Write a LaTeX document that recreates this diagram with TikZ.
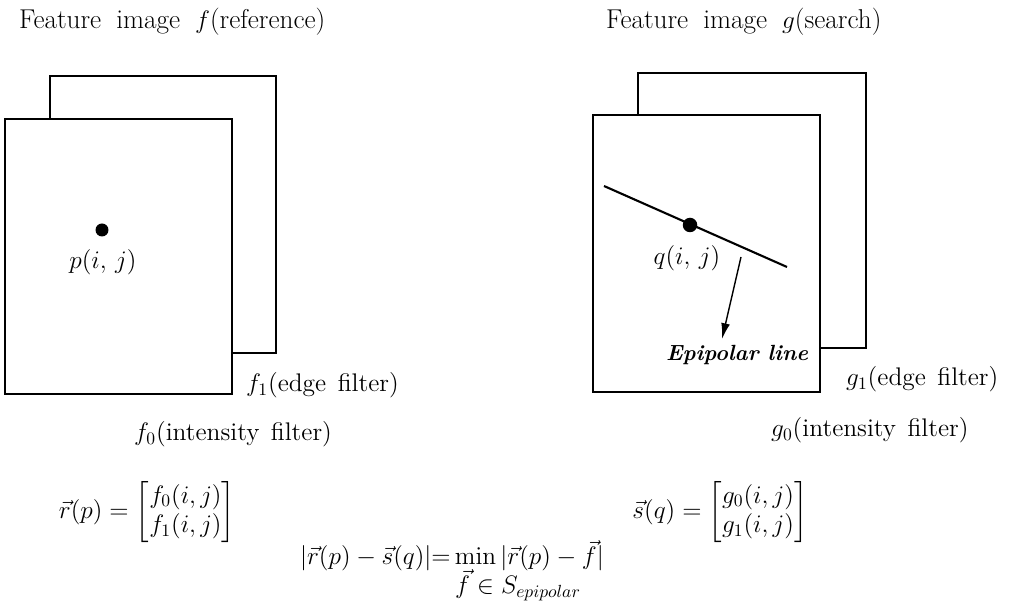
\documentclass[tikz,border=0pt]{standalone}
\usepackage{amsmath,amssymb,mathtools}
\usepackage{tikz}
\usetikzlibrary{arrows.meta,calc,positioning}
\newcommand{\labelfont}{\fontsize{14.5}{17}\selectfont\spaceskip 0.45em\relax}
\newcommand{\titlefont}{\fontsize{15.5}{18}\selectfont\spaceskip 0.55em\relax}

\begin{document}
\begin{tikzpicture}[x=0.02cm, y=-0.02cm, >={Latex[length=9pt,width=5pt]},
  every node/.style={font=\labelfont},
  plane/.style={draw, line width=1pt, fill=white},
  featdot/.style={circle, fill, inner sep=0pt, minimum size=0.26cm},
  title/.style={anchor=west, font=\titlefont}]
 \useasboundingbox (0,0) rectangle (1011,614);
 % reference image f
 \node[title] (ftitle) at (13,22) {Feature image $f$(reference)};
 \draw[plane] (50,76) rectangle (276,353);
 \draw[plane] (5,119) rectangle (232,394);
 \node[featdot] (p) at (102,230) {};
 \node (plab) at (103,262) {$p(i,\,j)$};
 \node[anchor=base west] (f1) at (240,392) {$f_1$(edge filter)};
 \node[anchor=base west] (f0) at (128,441) {$f_0$(intensity filter)};
 % search image g
 \node[title] (gtitle) at (600,22) {Feature image $g$(search)};
 \draw[plane] (638,73) rectangle (866,348);
 \draw[plane] (593,115) rectangle (820,392);
 \coordinate (ea) at (604,186);
 \coordinate (eb) at (787,267);
 \draw[line width=1.2pt] (ea) -- (eb);
 \node[featdot, minimum size=0.29cm] (q) at (690,225) {};
 \node (qlab) at (687,258) {$q(i,\,j)$};
 \node[font=\fontsize{12.5}{14}\selectfont\bfseries\itshape] (epi) at (737,355) {Epipolar line};
 \coordinate (estart) at (741,257);
 \draw[->, line width=0.8pt] (estart) -- ([xshift=-0.3cm]epi.north);
 \node[anchor=base west] (g1) at (840,386) {$g_1$(edge filter)};
 \node[anchor=base west] (g0) at (765,437) {$g_0$(intensity filter)};
 % feature vectors
 \node (rvec) at (147,512) {$\vec{r}(p)=\begin{bmatrix}f_0(i,j)\\ f_1(i,j)\end{bmatrix}$};
 \node (svec) at (720,512) {$\vec{s}(q)=\begin{bmatrix}g_0(i,j)\\ g_1(i,j)\end{bmatrix}$};
 \node (match) at (452,572) {$|\vec{r}(p)-\vec{s}(q)|{=}\mathop{\mathrm{min}}\limits_{\mathrlap{\kern-0.8em\textstyle\vec{f}\in S_{epipolar}}}|\vec{r}(p)-\vec{f}|$};
\end{tikzpicture}
\end{document}
